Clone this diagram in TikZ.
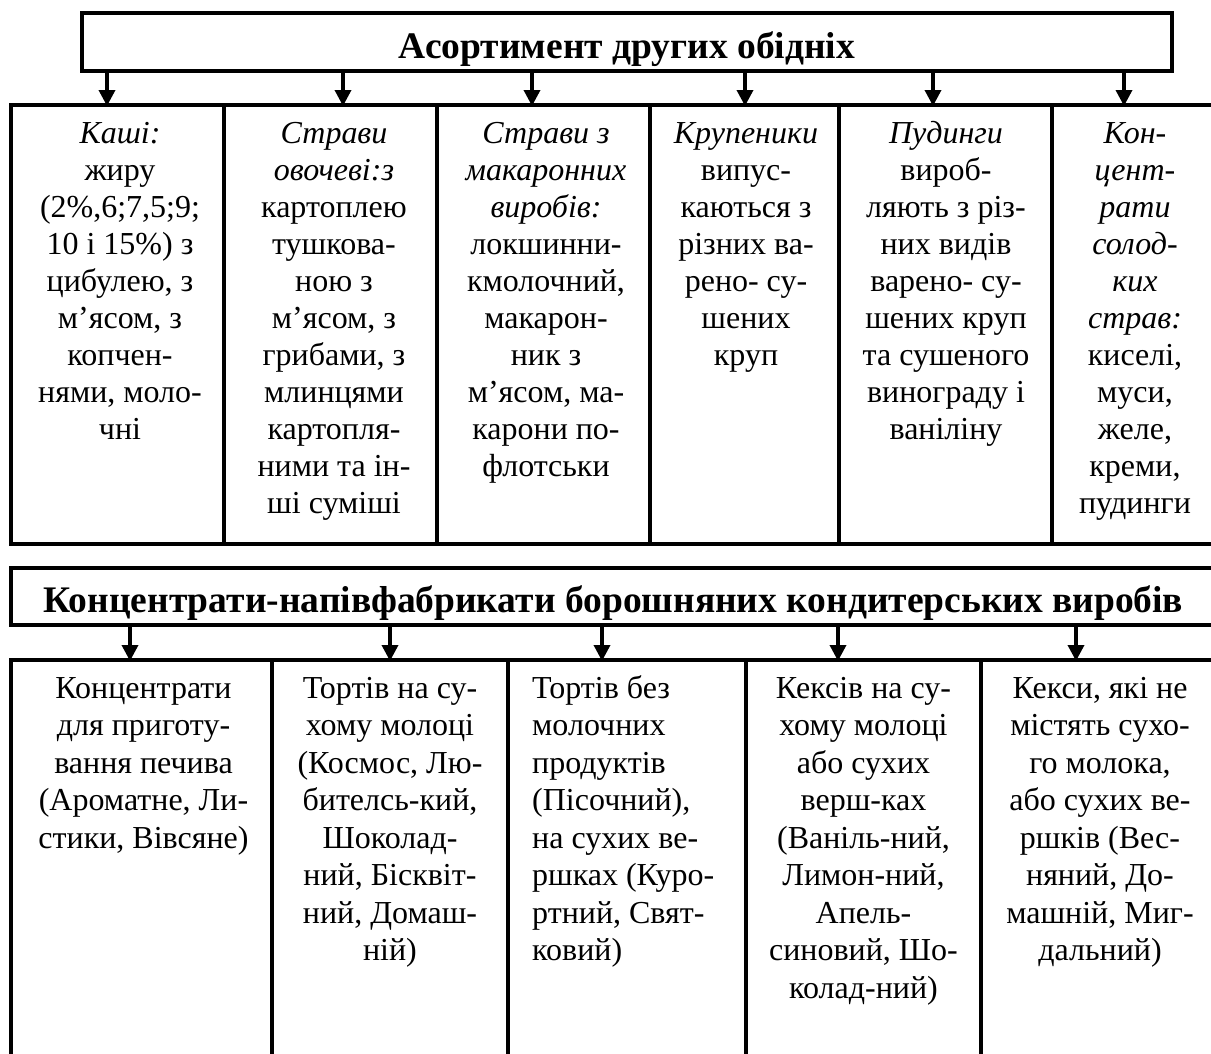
\documentclass[tikz,border=0pt]{standalone}
\usepackage{fontspec}
\setmainfont{Liberation Serif}
\usetikzlibrary{arrows.meta}
\newcommand\mystrut{\vrule height 26pt depth 11pt width 0pt}
\begin{document}
\begin{tikzpicture}[x=1pt,y=-1pt,
  frame/.style={line width=4pt, line join=miter},
  hdr/.style={draw, line width=4pt, rectangle, inner sep=0pt},
  arr/.style={line width=3.5pt, -{Triangle[length=16pt,width=16pt]}},
  cell/.style={font=\fontsize{32}{37}\selectfont, align=center, anchor=north, inner sep=0pt},
  cellb/.style={font=\fontsize{32}{37.5}\selectfont, align=center, anchor=north, inner sep=0pt},
  ttl/.style={font=\fontsize{37.5}{43}\selectfont\bfseries, anchor=base, inner sep=0pt}]
\useasboundingbox (0,0) rectangle (1211,1053);
\fill[white] (0,0) rectangle (1211,1053);

% ---------- top block ----------
\node[hdr, minimum width=1090pt, minimum height=58pt] (h1) at (627,42) {};
\node[ttl] (t1) at (627,58) {Асортимент других обідніх};

\draw[frame] (1220,105) -- (11,105) -- (11,544) -- (1220,544);
\foreach \x in {224,437,650,839,1052} \draw[frame] (\x,105) -- (\x,544);

\foreach \i/\x in {1/107,2/343,3/532,4/745,5/933,6/1124} {
  \coordinate (a1\i) at (\x,106);
  \draw[arr] (h1.south -| a1\i) -- (a1\i);
}

\node[cell] (c11) at (120,117) {\mystrut\textit{Каші:}\\ жиру\\ (2\%,6;7,5;9;\\ 10 і 15\%) з\\ цибулею, з\\ м’ясом, з\\ копчен-\\ нями, моло-\\ чні};
\node[cell] (c12) at (334,117) {\mystrut\textit{Страви}\\ \textit{овочеві:з}\\ картоплею\\ тушкова-\\ ною з\\ м’ясом, з\\ грибами, з\\ млинцями\\ картопля-\\ ними та ін-\\ ші суміші};
\node[cell] (c13) at (546,117) {\mystrut\textit{Страви з}\\ \textit{макаронних}\\ \textit{виробів:}\\ локшинни-\\ кмолочний,\\ макарон-\\ ник з\\ м’ясом, ма-\\ карони по-\\ флотськи};
\node[cell] (c14) at (746,117) {\mystrut\textit{Крупеники}\\ випус-\\ каються з\\ різних ва-\\ рено- су-\\ шених\\ круп};
\node[cell] (c15) at (946,117) {\mystrut\textit{Пудинги}\\ вироб-\\ ляють з різ-\\ них видів\\ варено- су-\\ шених круп\\ та сушеного\\ винограду і\\ ваніліну};
\node[cell] (c16) at (1135,117) {\mystrut\textit{Кон-}\\ \textit{цент-}\\ \textit{рати}\\ \textit{солод-}\\ \textit{ких}\\ \textit{страв:}\\ киселі,\\ муси,\\ желе,\\ креми,\\ пудинги};

% ---------- bottom block ----------
\node[hdr, minimum width=1208pt, minimum height=57pt] (h2) at (615,596.5) {};
\node[ttl] (t2) at (613.5,612) {Концентрати-напівфабрикати борошняних кондитерських виробів};

\draw[frame] (1220,660) -- (11,660) -- (11,1060);
\foreach \x in {272,508,746,981} \draw[frame] (\x,660) -- (\x,1060);

\foreach \i/\x in {1/130,2/390,3/602,4/838,5/1076} {
  \coordinate (a2\i) at (\x,661);
  \draw[arr] (h2.south -| a2\i) -- (a2\i);
}

\node[cellb] (c21) at (143.5,672) {\mystrut Концентрати\\ для приготу-\\ вання печива\\ (Ароматне, Ли-\\ стики, Вівсяне)};
\node[cellb] (c22) at (390,672) {\mystrut Тортів на су-\\ хому молоці\\ (Космос, Лю-\\ бителсь-кий,\\ Шоколад-\\ ний, Бісквіт-\\ ний, Домаш-\\ ній)};
\node[cellb, align=left, anchor=north west] (c23) at (532,672) {\mystrut Тортів без\\ молочних\\ продуктів\\ (Пісочний),\\ на сухих ве-\\ ршках (Куро-\\ ртний, Свят-\\ ковий)};
\node[cellb] (c24) at (863.5,672) {\mystrut Кексів на су-\\ хому молоці\\ або сухих\\ верш-ках\\ (Ваніль-ний,\\ Лимон-ний,\\ Апель-\\ синовий, Шо-\\ колад-ний)};
\node[cellb] (c25) at (1100,672) {\mystrut Кекси, які не\\ містять сухо-\\ го молока,\\ або сухих ве-\\ ршків (Вес-\\ няний, До-\\ машній, Миг-\\ дальний)};
\end{tikzpicture}
\end{document}
